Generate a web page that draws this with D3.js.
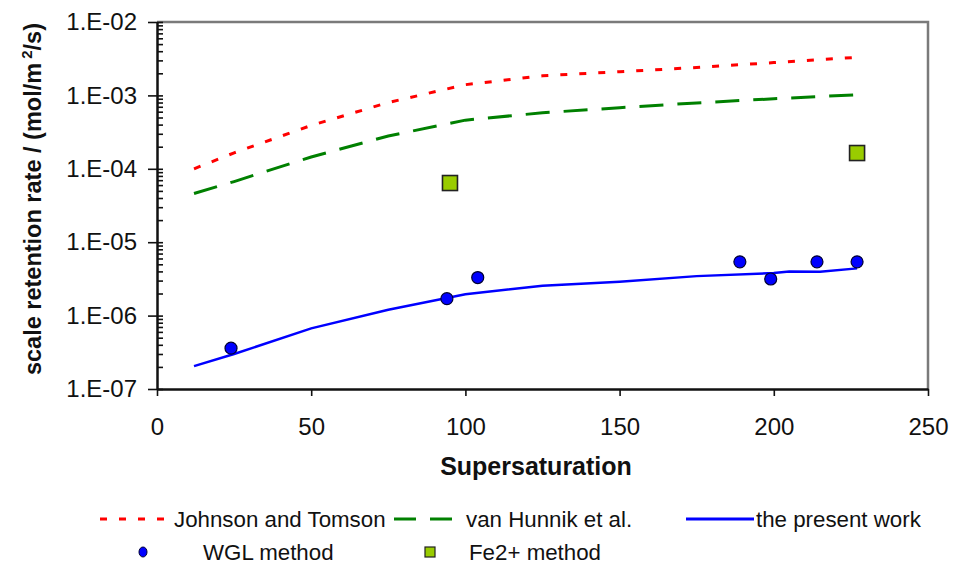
<!DOCTYPE html>
<html lang="en">
<head>
    <meta charset="UTF-8">
    <title>Scale retention rate vs supersaturation</title>
    <script src="https://d3js.org/d3.v7.min.js"></script>
    <style>
        body {
            margin: 0;
            background: #fff;
        }
        svg {
            display: block;
            font-family: "Liberation Sans", Arial, sans-serif;
        }
    </style>
</head>
<body>
    <svg id="chart" width="956" height="564"></svg>
    <script>
        // data
        const johnsonX = [12, 25, 50, 75, 100, 125, 150, 175, 200, 227];
        const johnsonY = [1.0e-4, 1.65e-4, 3.9e-4, 8.0e-4, 1.4e-3, 1.85e-3, 2.1e-3, 2.4e-3, 2.8e-3, 3.3e-3];

        const hunnikX = [12, 25, 50, 75, 100, 125, 150, 175, 200, 227];
        const hunnikY = [4.6e-5, 6.7e-5, 1.45e-4, 2.8e-4, 4.6e-4, 5.8e-4, 6.8e-4, 7.9e-4, 9.0e-4, 1.02e-3];

        const presentX = [12, 25, 50, 75, 100, 125, 150, 175, 200, 205, 215, 227];
        const presentY = [2.05e-7, 3.0e-7, 6.7e-7, 1.2e-6, 1.95e-6, 2.55e-6, 2.9e-6, 3.45e-6, 3.8e-6, 4.0e-6, 3.95e-6, 4.4e-6];

        const wglX = [24, 94, 104, 189, 199, 214, 227];
        const wglY = [3.6e-7, 1.7e-6, 3.3e-6, 5.4e-6, 3.15e-6, 5.4e-6, 5.4e-6];

        const feX = [95, 227];
        const feY = [6.4e-5, 1.64e-4];

        const xTicks = [0, 50, 100, 150, 200, 250];
        const yTicks = [1e-7, 1e-6, 1e-5, 1e-4, 1e-3, 1e-2];

        const svg = d3.select("#chart");
        const margin = { left: 157, top: 22, right: 28, bottom: 175 };
        const width = 956 - margin.left - margin.right;
        const height = 564 - margin.top - margin.bottom;

        const x = d3.scaleLinear().domain([0, 250]).range([0, width]);
        const y = d3.scaleLog().domain([1e-7, 1e-2]).range([height, 0]);

        const g = svg.append("g").attr("transform", `translate(${margin.left},${margin.top})`);

        // grey frame on top and right
        g.append("path")
            .attr("d", `M0,0H${width}V${height}`)
            .attr("fill", "none")
            .attr("stroke", "#7a7a7a")
            .attr("stroke-width", 2.5);

        const zip = (xs, ys) => xs.map((v, i) => [v, ys[i]]);
        const line = d3.line().x(d => x(d[0])).y(d => y(d[1]));

        g.append("path")
            .datum(zip(johnsonX, johnsonY))
            .attr("d", line)
            .attr("fill", "none")
            .attr("stroke", "#ff0000")
            .attr("stroke-width", 3)
            .attr("stroke-dasharray", "7,12");

        g.append("path")
            .datum(zip(hunnikX, hunnikY))
            .attr("d", line)
            .attr("fill", "none")
            .attr("stroke", "#008000")
            .attr("stroke-width", 3)
            .attr("stroke-dasharray", "24,14");

        g.append("path")
            .datum(zip(presentX, presentY))
            .attr("d", line)
            .attr("fill", "none")
            .attr("stroke", "#0000ff")
            .attr("stroke-width", 2.5);

        g.selectAll("circle.wgl")
            .data(zip(wglX, wglY))
            .enter()
            .append("circle")
            .attr("class", "wgl")
            .attr("cx", d => x(d[0]))
            .attr("cy", d => y(d[1]))
            .attr("r", 6)
            .attr("fill", "#0000ff")
            .attr("stroke", "#000033")
            .attr("stroke-width", 1.2);

        g.selectAll("rect.fe")
            .data(zip(feX, feY))
            .enter()
            .append("rect")
            .attr("class", "fe")
            .attr("x", d => x(d[0]) - 7.5)
            .attr("y", d => y(d[1]) - 7.5)
            .attr("width", 15)
            .attr("height", 15)
            .attr("fill", "#99cc00")
            .attr("stroke", "#222")
            .attr("stroke-width", 1.6);

        // axes
        const fmt = d => "1.E-" + String(Math.round(-Math.log10(d))).padStart(2, "0");

        const yAxis = g.append("g")
            .call(d3.axisLeft(y).tickValues(yTicks).tickFormat(fmt).tickSize(9).tickSizeOuter(0));
        g.append("g")
            .call(d3.axisLeft(y).tickValues(y.ticks()).tickFormat("").tickSize(-6).tickSizeOuter(0))
            .call(a => a.select(".domain").remove());

        const xAxis = g.append("g")
            .attr("transform", `translate(0,${height})`)
            .call(d3.axisBottom(x).tickValues(xTicks).tickSize(7).tickSizeOuter(0));

        [yAxis, xAxis].forEach(a => {
            a.select(".domain").attr("stroke", "#111").attr("stroke-width", 2.5);
        });
        g.selectAll(".tick line").attr("stroke", "#111").attr("stroke-width", 1.6);
        yAxis.selectAll("text")
            .attr("x", -20)
            .attr("font-size", 24)
            .attr("font-family", "Liberation Sans, Arial, sans-serif")
            .attr("fill", "#111");
        xAxis.selectAll("text")
            .attr("y", 29)
            .attr("dy", "0.71em")
            .attr("font-size", 24)
            .attr("font-family", "Liberation Sans, Arial, sans-serif")
            .attr("fill", "#111");

        // axis titles
        svg.append("text")
            .attr("x", 536)
            .attr("y", 475)
            .attr("text-anchor", "middle")
            .attr("font-size", 25)
            .attr("font-weight", "bold")
            .attr("fill", "#111")
            .text("Supersaturation");

        const yTitle = svg.append("text")
            .attr("transform", `translate(41,199) rotate(-90)`)
            .attr("text-anchor", "middle")
            .attr("font-size", 23.5)
            .attr("font-weight", "bold")
            .attr("fill", "#111");
        yTitle.append("tspan").text("scale retention rate / (mol/m");
        yTitle.append("tspan").attr("dy", -9).attr("font-size", 15).text(" 2");
        yTitle.append("tspan").attr("dy", 9).text("/s)");

        // legend
        const leg = svg.append("g").attr("font-size", 22.3).attr("fill", "#111");
        const lineItems = [
            { x1: 100, x2: 170, tx: 174, label: "Johnson and Tomson", color: "#ff0000", dash: "7,12" },
            { x1: 394, x2: 452, tx: 466, label: "van Hunnik et al.", color: "#008000", dash: "22,14" },
            { x1: 686, x2: 754, tx: 756, label: "the present work", color: "#0000ff", dash: null }
        ];
        lineItems.forEach(it => {
            leg.append("line")
                .attr("x1", it.x1).attr("x2", it.x2)
                .attr("y1", 519).attr("y2", 519)
                .attr("stroke", it.color)
                .attr("stroke-width", 3)
                .attr("stroke-dasharray", it.dash);
            leg.append("text")
                .attr("x", it.tx).attr("y", 527)
                .text(it.label);
        });

        leg.append("ellipse")
            .attr("cx", 143).attr("cy", 552)
            .attr("rx", 4).attr("ry", 5)
            .attr("fill", "#0000ff")
            .attr("stroke", "#000033");
        leg.append("text").attr("x", 203).attr("y", 560).text("WGL method");

        leg.append("rect")
            .attr("x", 425).attr("y", 547)
            .attr("width", 10).attr("height", 10)
            .attr("fill", "#99cc00")
            .attr("stroke", "#222")
            .attr("stroke-width", 1.2);
        leg.append("text").attr("x", 469).attr("y", 560).text("Fe2+ method");
    </script>
</body>
</html>
